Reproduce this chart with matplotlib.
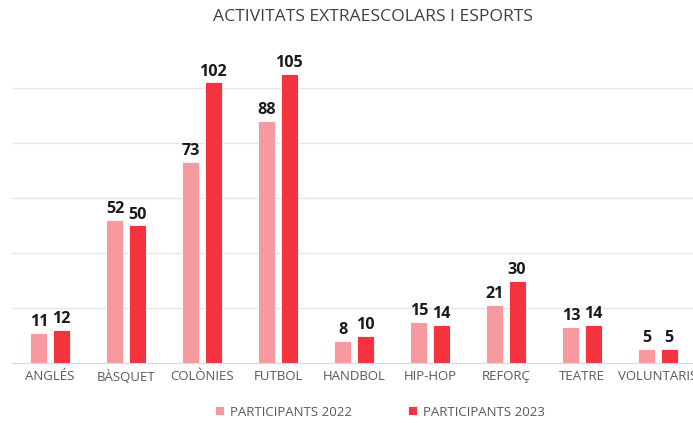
import numpy as np
import matplotlib.pyplot as plt

plt.rcParams['font.family'] = ['Open Sans', 'DejaVu Sans']

categories = ['ANGLÉS', 'BÀSQUET', 'COLÒNIES', 'FUTBOL', 'HANDBOL',
              'HIP-HOP', 'REFORÇ', 'TEATRE', 'VOLUNTARIS']
participants_2022 = [11, 52, 73, 88, 8, 15, 21, 13, 5]
participants_2023 = [12, 50, 102, 105, 10, 14, 30, 14, 5]

color_2022 = '#F8999F'
color_2023 = '#F5333F'

fig = plt.figure(figsize=(6.93, 4.23), dpi=100)
# eixos una mica més amples que la figura: l'última etiqueta queda tallada
ax = fig.add_axes([12 / 693, 60 / 423, 684 / 693, 330 / 423])

x = np.arange(len(categories))
w = 0.225
off = 0.146
b1 = ax.bar(x - off, participants_2022, w, color=color_2022, edgecolor='white', linewidth=0.6, zorder=3)
b2 = ax.bar(x + off, participants_2023, w, color=color_2023, edgecolor='white', linewidth=0.6, zorder=3)

for bars in (b1, b2):
    ax.bar_label(bars, padding=2, fontsize=11.6, fontweight='bold', color='#1a1a1a')

ax.set_xlim(-0.5, len(categories) - 0.5)
ax.set_ylim(0, 120)
ax.set_yticks([20, 40, 60, 80, 100])
ax.yaxis.grid(True, color='#e6e6e6', linewidth=1, zorder=0)
ax.tick_params(axis='y', left=False, labelleft=False)
ax.set_xticks(x)
ax.set_xticklabels(categories, fontsize=9.5, color='#595959')
ax.tick_params(axis='x', length=0, pad=5)
for s in ['top', 'right', 'left']:
    ax.spines[s].set_visible(False)
ax.spines['bottom'].set_color('#d9d9d9')
ax.spines['bottom'].set_zorder(4)

fig.text(373 / 693, 1 - 17 / 423, 'ACTIVITATS EXTRAESCOLARS I ESPORTS',
         ha='center', va='center', fontsize=12.6, color='#404040')

fig.legend([b1, b2], ['PARTICIPANTS 2022', 'PARTICIPANTS 2023'],
           loc='center', bbox_to_anchor=(380 / 693, 1 - 412 / 423), ncol=2,
           frameon=False, fontsize=9.5, labelcolor='#595959',
           handlelength=0.68, handleheight=0.68, columnspacing=4.3, handletextpad=0.45)

fig.savefig('out.png', dpi=100)
